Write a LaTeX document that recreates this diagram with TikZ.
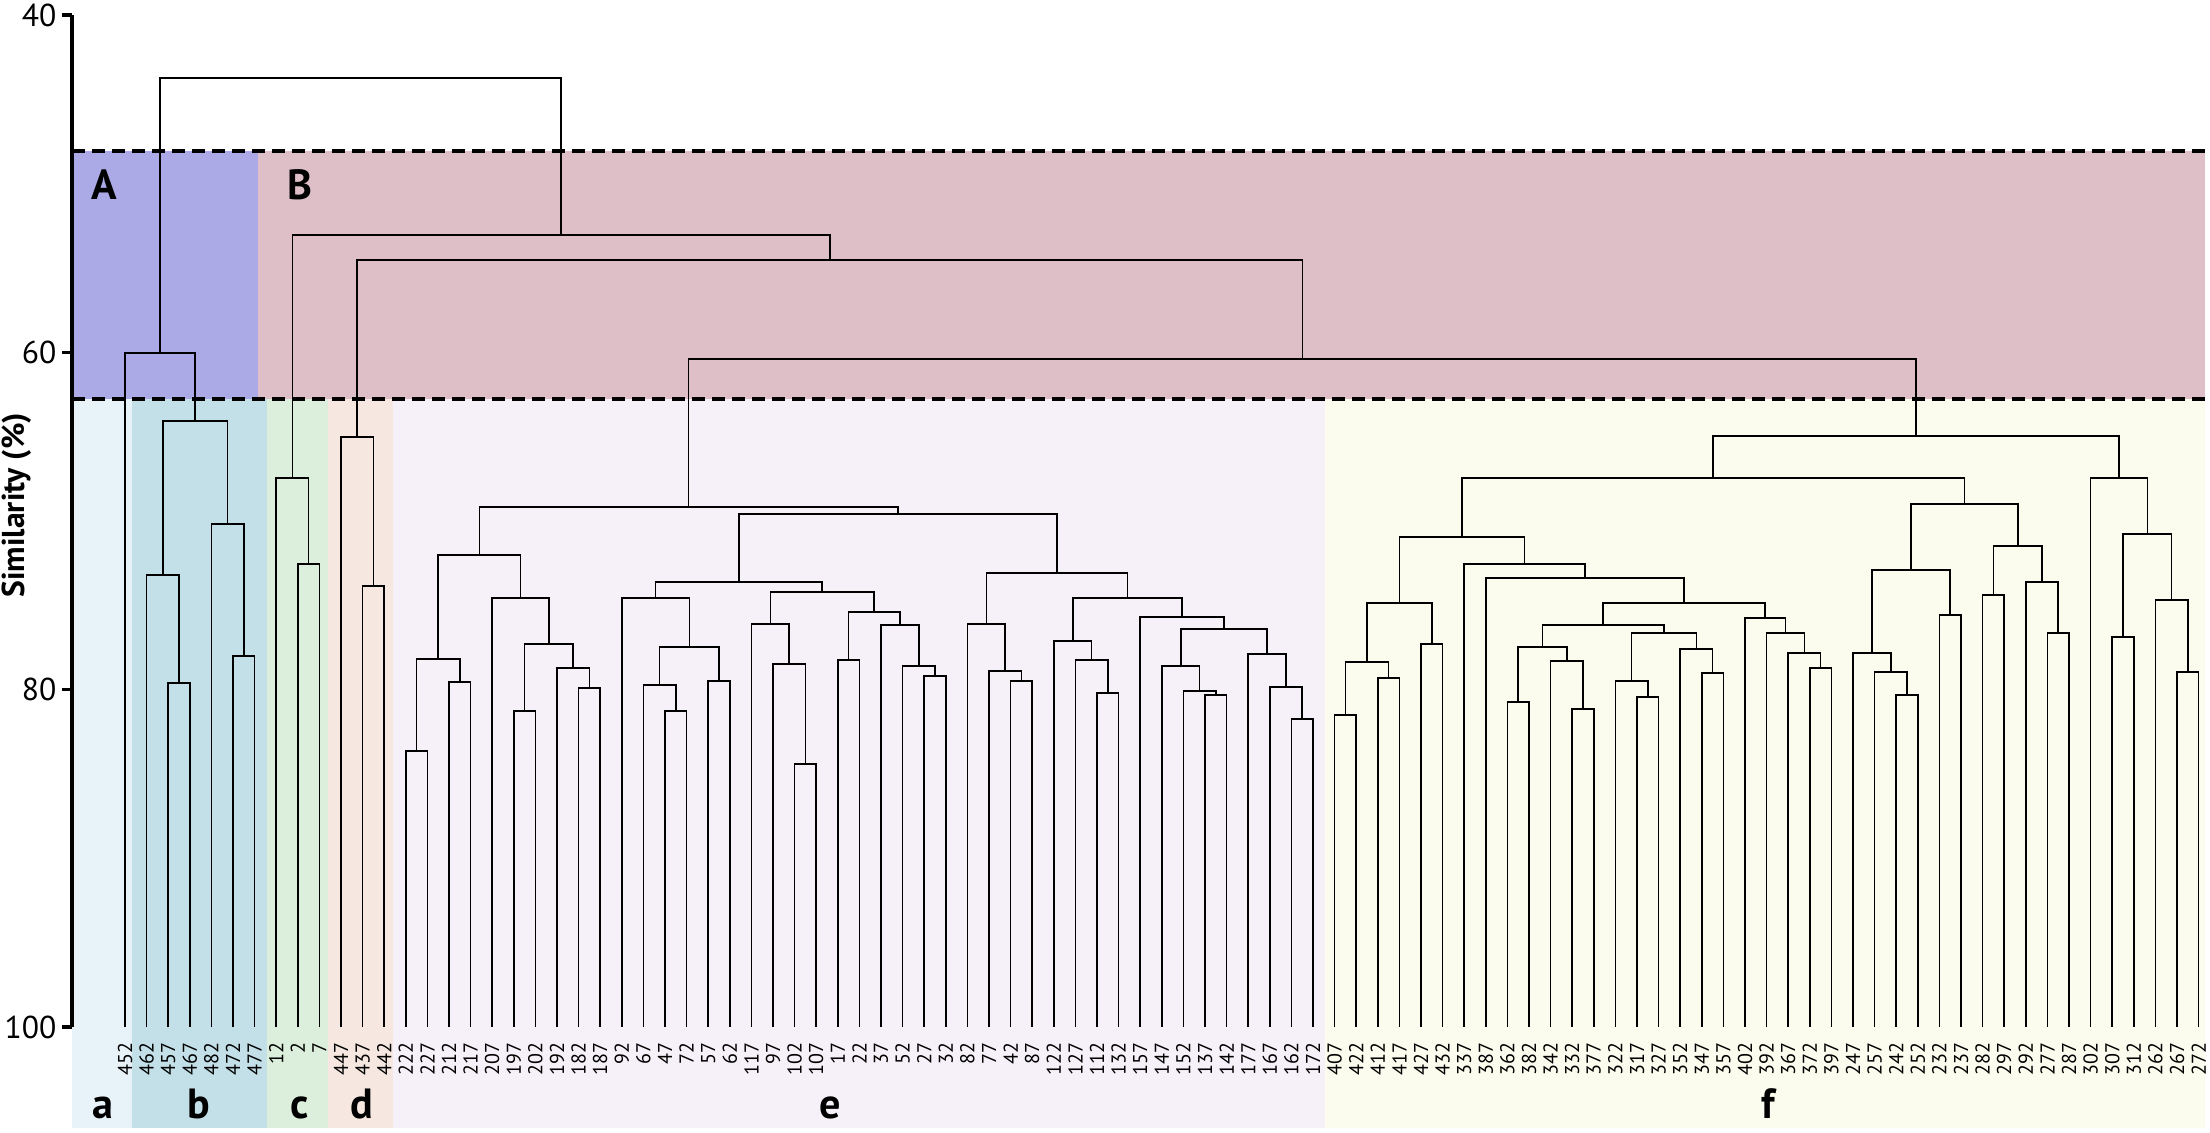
\documentclass[tikz,border=0pt]{standalone}
\usepackage{fontspec}
\setmainfont{PT Sans}
\usepackage{tikz}
\usetikzlibrary{calc}

\definecolor{bandA}{HTML}{ABAAE6}
\definecolor{bandB}{HTML}{DEBFC8}
\definecolor{banda}{HTML}{E8F3F9}
\definecolor{bandb}{HTML}{C3E0E8}
\definecolor{bandc}{HTML}{DCEEDC}
\definecolor{bandd}{HTML}{F6E8E0}
\definecolor{bande}{HTML}{F6F1F8}
\definecolor{bandf}{HTML}{FCFCEE}

\tikzset{
  branch/.style={line width=0.45pt, black},
  cutline/.style={line width=1.1pt, dash pattern=on 1.3mm off 0.7mm},
  axisline/.style={line width=1pt},
  leaflabel/.style={rotate=90, anchor=east, inner sep=0pt, font=\fontsize{5.7}{6}\selectfont},
  ticklabel/.style={anchor=east, inner sep=0pt, font=\fontsize{9}{10}\selectfont},
  grplabel/.style={anchor=base, inner sep=0pt, font=\bfseries\fontsize{12}{13}\selectfont},
}

\newcommand{\joinpair}[4]{%
  \coordinate (#1-m) at ($(#2)!0.5!(#3)$);
  \coordinate (#1-h) at (0,#4);
  \coordinate (#1) at (#1-m |- #1-h);
  \draw[branch] (#2) |- (#1) -| (#3);
}

\begin{document}
\begin{tikzpicture}[x=0.1mm, y=-0.1mm]
    \useasboundingbox (0,0) rectangle (2210,1132);
    \fill[bandA] (72,151) rectangle (258,399);
    \fill[bandB] (258,151) rectangle (2205,399);
    \fill[banda] (72,399) rectangle (132,1128);
    \fill[bandb] (132,399) rectangle (267,1128);
    \fill[bandc] (267,399) rectangle (328,1128);
    \fill[bandd] (328,399) rectangle (393,1128);
    \fill[bande] (393,399) rectangle (1325,1128);
    \fill[bandf] (1325,399) rectangle (2205,1128);
    \node[grplabel, anchor=center] (gA) at (104,185) {A};
    \node[grplabel, anchor=center] (gB) at (300,185) {B};
    \node[grplabel] (ga) at (103,1118) {a};
    \node[grplabel] (gb) at (199,1118) {b};
    \node[grplabel] (gc) at (300,1118) {c};
    \node[grplabel] (gd) at (362,1118) {d};
    \node[grplabel] (ge) at (830,1118) {e};
    \node[grplabel] (gf) at (1768,1118) {f};

    \foreach \lab [count=\i from 0] in {452,462,457,467,482,472,477,12,2,7,447,437,442,
      222,227,212,217,207,197,202,192,182,187,92,67,47,72,57,62,117,97,102,107,17,22,37,52,27,32,
      82,77,42,87,122,127,112,132,157,147,152,137,142,177,167,162,172,
      407,422,412,417,427,432,337,387,362,382,342,332,377,322,317,327,352,347,357,402,392,367,372,397,
      247,257,242,252,232,237,282,297,292,277,287,302,307,312,262,267,272}{
      \coordinate (n\lab) at ({125+21.6*\i},1027);
      \node[leaflabel] (t\lab) at ($(n\lab)+(0,15)$) {\lab};
    }

    \joinpair{b1}{n457}{n467}{683}
    \joinpair{b2}{n462}{b1}{575}
    \joinpair{b3}{n472}{n477}{656}
    \joinpair{b4}{n482}{b3}{524}
    \joinpair{b5}{b2}{b4}{421}
    \joinpair{A}{n452}{b5}{353}
    \joinpair{c1}{n2}{n7}{564}
    \joinpair{c2}{n12}{c1}{478}
    \joinpair{d1}{n437}{n442}{586}
    \joinpair{d2}{n447}{d1}{437}

    \joinpair{e1}{n222}{n227}{751}
    \joinpair{e2}{n212}{n217}{682}
    \joinpair{e3}{e1}{e2}{659}
    \joinpair{e4}{n182}{n187}{688}
    \joinpair{e5}{n192}{e4}{668}
    \joinpair{e6}{n197}{n202}{711}
    \joinpair{e7}{e6}{e5}{644}
    \joinpair{e8}{n207}{e7}{598}
    \joinpair{e9}{e3}{e8}{555}
    \joinpair{e10}{n47}{n72}{711}
    \joinpair{e11}{n67}{e10}{685}
    \joinpair{e12}{n57}{n62}{681}
    \joinpair{e13}{e11}{e12}{647}
    \joinpair{e14}{n92}{e13}{598}
    \joinpair{e15}{n102}{n107}{764}
    \joinpair{e16}{n97}{e15}{664}
    \joinpair{e17}{n117}{e16}{624}
    \joinpair{e18}{n17}{n22}{660}
    \joinpair{e19}{n27}{n32}{676}
    \joinpair{e20}{n52}{e19}{666}
    \joinpair{e21}{n37}{e20}{625}
    \joinpair{e22}{e18}{e21}{612}
    \joinpair{e23}{e17}{e22}{592}
    \joinpair{e24}{e14}{e23}{582}
    \joinpair{e25}{n42}{n87}{681}
    \joinpair{e26}{n77}{e25}{671}
    \joinpair{e27}{n82}{e26}{624}
    \joinpair{e28}{n112}{n132}{693}
    \joinpair{e29}{n127}{e28}{660}
    \joinpair{e30}{n122}{e29}{641}
    \joinpair{e31}{n137}{n142}{695}
    \joinpair{e32}{n152}{e31}{691}
    \joinpair{e33}{n147}{e32}{666}
    \joinpair{e34}{n162}{n172}{719}
    \joinpair{e35}{n167}{e34}{687}
    \joinpair{e36}{n177}{e35}{654}
    \joinpair{e37}{e33}{e36}{629}
    \joinpair{e38}{n157}{e37}{617}
    \joinpair{e39}{e30}{e38}{598}
    \joinpair{e40}{e27}{e39}{573}
    \joinpair{e41}{e24}{e40}{514}
    \joinpair{e42}{e9}{e41}{507}

    \joinpair{f1}{n407}{n422}{715}
    \joinpair{f2}{n412}{n417}{678}
    \joinpair{f3}{f1}{f2}{662}
    \joinpair{f4}{n427}{n432}{644}
    \joinpair{f5}{f3}{f4}{603}
    \joinpair{f6}{n362}{n382}{702}
    \joinpair{f7}{n332}{n377}{709}
    \joinpair{f8}{n342}{f7}{661}
    \joinpair{f9}{f6}{f8}{647}
    \joinpair{f10}{n317}{n327}{697}
    \joinpair{f11}{n322}{f10}{681}
    \joinpair{f12}{n347}{n357}{673}
    \joinpair{f13}{n352}{f12}{649}
    \joinpair{f14}{f11}{f13}{633}
    \joinpair{f15}{f9}{f14}{625}
    \joinpair{f16}{n372}{n397}{668}
    \joinpair{f17}{n367}{f16}{653}
    \joinpair{f18}{n392}{f17}{633}
    \joinpair{f19}{n402}{f18}{618}
    \joinpair{f20}{f15}{f19}{603}
    \joinpair{f21}{n387}{f20}{578}
    \joinpair{f22}{n337}{f21}{564}
    \joinpair{f23}{f5}{f22}{537}
    \joinpair{f24}{n242}{n252}{695}
    \joinpair{f25}{n257}{f24}{672}
    \joinpair{f26}{n247}{f25}{653}
    \joinpair{f27}{n232}{n237}{615}
    \joinpair{f28}{f26}{f27}{570}
    \joinpair{f29}{n282}{n297}{595}
    \joinpair{f30}{n277}{n287}{633}
    \joinpair{f31}{n292}{f30}{582}
    \joinpair{f32}{f29}{f31}{546}
    \joinpair{f33}{f28}{f32}{504}
    \joinpair{f34}{f23}{f33}{478}
    \joinpair{f35}{n307}{n312}{637}
    \joinpair{f36}{n267}{n272}{672}
    \joinpair{f37}{n262}{f36}{600}
    \joinpair{f38}{f35}{f37}{534}
    \joinpair{f39}{n302}{f38}{478}
    \joinpair{f40}{f34}{f39}{436}

    \joinpair{ef}{e42}{f40}{359}
    \joinpair{B2}{d2}{ef}{260}
    \joinpair{B1}{c2}{B2}{235}
    \joinpair{root}{A}{B1}{78}

    \draw[cutline] (72,151) -- (2205,151);
    \draw[cutline] (72,399) -- (2205,399);

    \draw[axisline] (72,15) -- (72,1027);
    \foreach \v/\yy in {40/15,60/352.3,80/689.7,100/1027}{
      \draw[axisline] (62,\yy) -- (72,\yy);
      \node[ticklabel] (y\v) at (57,\yy) {\v};
    }
    \node[rotate=90, font=\bfseries\fontsize{9}{10}\selectfont] (ylab) at (17,505) {Similarity (\%)};
\end{tikzpicture}
\end{document}
